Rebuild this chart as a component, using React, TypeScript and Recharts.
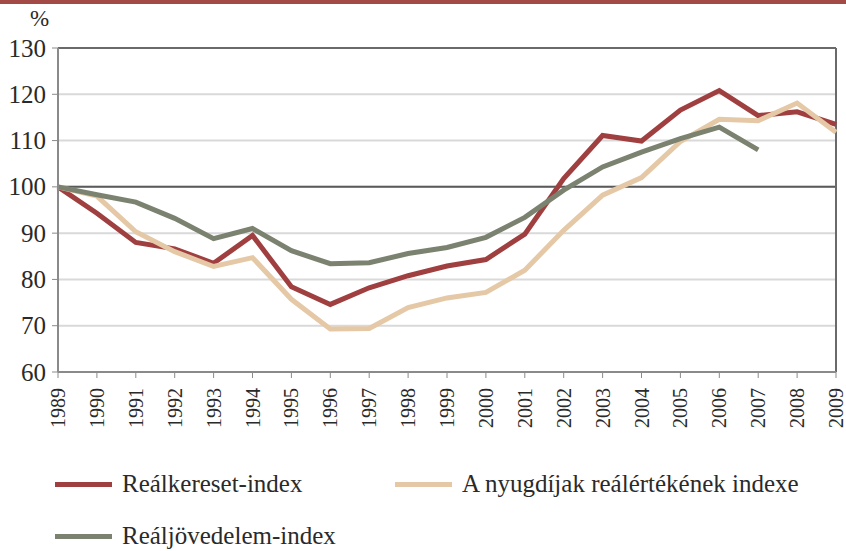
import { CartesianGrid, Line, LineChart, ReferenceLine, XAxis, YAxis } from 'recharts'

const YEARS = [1989, 1990, 1991, 1992, 1993, 1994, 1995, 1996, 1997, 1998, 1999, 2000, 2001, 2002, 2003, 2004, 2005, 2006, 2007, 2008, 2009]
const KERESET = [100, 94.3, 88, 86.6, 83.5, 89.5, 78.4, 74.6, 78.2, 80.8, 82.9, 84.3, 89.8, 101.8, 111.1, 109.9, 116.6, 120.8, 115.4, 116.2, 113.5]
const NYUGDIJ = [100, 98, 90.3, 86, 82.8, 84.7, 75.7, 69.3, 69.4, 73.9, 76, 77.2, 82, 90.6, 98.2, 102, 109.8, 114.6, 114.3, 118.1, 111.8]
const JOVEDELEM: (number | null)[] = [100, 98.3, 96.7, 93.2, 88.8, 91, 86.2, 83.4, 83.6, 85.6, 86.9, 89.1, 93.4, 99.3, 104.3, 107.5, 110.4, 112.9, 108, null, null]
const Y_TICKS = [60, 70, 80, 90, 100, 110, 120, 130]

const SERIES = [
  { key: 'kereset', name: 'Reálkereset-index', color: '#a03f3f' },
  { key: 'nyugdij', name: 'A nyugdíjak reálértékének indexe', color: '#e5c8a6' },
  { key: 'jovedelem', name: 'Reáljövedelem-index', color: '#7b8270' },
]

const data = YEARS.map((year, i) => ({
  year,
  kereset: KERESET[i],
  nyugdij: NYUGDIJ[i],
  jovedelem: JOVEDELEM[i],
}))

const FONT = "'Liberation Serif', 'Times New Roman', serif"

function YearTick({ x, y, payload }: any) {
  return (
    <text x={x} y={y + 8} transform={`rotate(-90, ${x}, ${y + 8})`} textAnchor="end" dominantBaseline="central"
      style={{ fontFamily: FONT, fontSize: 20 }} fill="#2a2a2a">
      {payload.value}
    </text>
  )
}

function ValueTick({ x, y, payload }: any) {
  return (
    <text x={x - 4} y={y} textAnchor="end" dominantBaseline="central" style={{ fontFamily: FONT, fontSize: 25 }} fill="#2a2a2a">
      {payload.value}
    </text>
  )
}

function LegendItem({ x, y, color, label }: { x: number; y: number; color: string; label: string }) {
  return (
    <div style={{ position: 'absolute', left: x, top: y - 15, height: 30, display: 'flex', alignItems: 'center' }}>
      <div style={{ width: 57, height: 5, background: color, marginRight: 10 }} />
      <span style={{ fontFamily: FONT, fontSize: 25, color: '#2a2a2a', whiteSpace: 'nowrap' }}>{label}</span>
    </div>
  )
}

export default function App() {
  return (
    <div style={{ position: 'absolute', left: 0, top: 0, width: 846, height: 551, background: '#fff' }}>
      <div style={{ position: 'absolute', left: 0, top: 0, width: 846, height: 4, background: '#a34a47' }} />
      <span style={{ position: 'absolute', left: 30, top: 6, fontFamily: FONT, fontSize: 23, color: '#2a2a2a' }}>%</span>
      <LineChart width={846} height={551} data={data} margin={{ top: 48, right: 10, bottom: 0, left: 0 }}>
        <CartesianGrid vertical={false} stroke="#d9d9d9" strokeWidth={2} />
        <XAxis dataKey="year" type="number" domain={[1989, 2009]} ticks={YEARS} interval={0} tick={<YearTick />}
          axisLine={{ stroke: '#8a8a8a', strokeWidth: 2 }} tickLine={{ stroke: '#8a8a8a' }} tickSize={6} height={179} />
        <YAxis domain={[60, 130]} ticks={Y_TICKS} interval={0} width={58} tickSize={6}
          axisLine={{ stroke: '#8a8a8a', strokeWidth: 2 }} tickLine={{ stroke: '#8a8a8a' }} tick={<ValueTick />} />
        <ReferenceLine y={100} stroke="#5a5a5a" strokeWidth={2} />
        <ReferenceLine y={130} stroke="#6a6a6a" strokeWidth={2} />
        <ReferenceLine x={2009} stroke="#6a6a6a" strokeWidth={2} />
        {SERIES.map((s) => (
          <Line key={s.key} type="linear" dataKey={s.key} name={s.name} stroke={s.color} strokeWidth={5}
            dot={false} isAnimationActive={false} connectNulls={false} />
        ))}
      </LineChart>
      <LegendItem x={55} y={484} color={SERIES[0].color} label={SERIES[0].name} />
      <LegendItem x={395} y={484} color={SERIES[1].color} label={SERIES[1].name} />
      <LegendItem x={55} y={536} color={SERIES[2].color} label={SERIES[2].name} />
    </div>
  )
}
